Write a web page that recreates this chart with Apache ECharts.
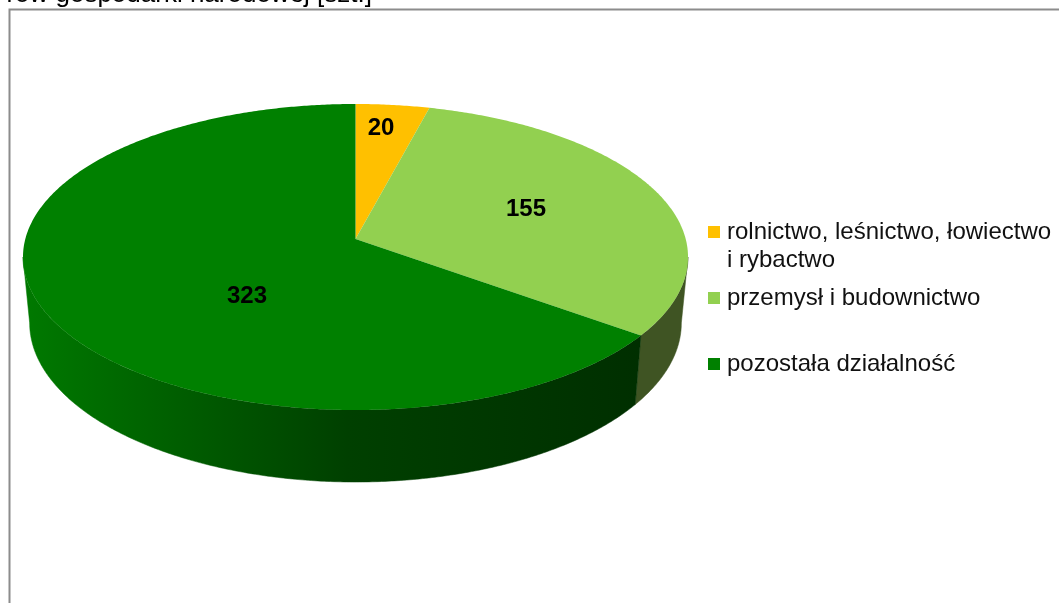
<!DOCTYPE html>
<html><head><meta charset="utf-8">
<style>html,body{margin:0;padding:0;background:#fff;overflow:hidden}#c{width:1059px;height:603px}</style>
<script src="https://cdn.jsdelivr.net/npm/echarts@6/dist/echarts.min.js"></script>
</head><body><div id="c"></div>
<script>
const categories = ['rolnictwo, leśnictwo, łowiectwo i rybactwo', 'przemysł i budownictwo', 'pozostała działalność'];
const values = [20, 155, 323];
const titleText = 'rów gospodarki narodowej [szt.]';

const topColors = ['#FFC000', '#92D050', '#008000'];
const labelPos = [[381, 128], [526, 209], [247, 296]];
const legendTops = [220, 286, 352];
const FONT = '"Liberation Sans", Arial, sans-serif';

const chart = echarts.init(document.getElementById('c'), null, {renderer: 'canvas'});
const total = values.reduce((a, b) => a + b, 0);
const D2R = Math.PI / 180;
const K = 36 / 306, A = 150.9, B = 330.2, CX = 355.5, CY = 239;
function topPt(deg) {
  const u = Math.sin(deg * D2R), v = Math.cos(deg * D2R), d = 1 + K * v;
  return [CX + B * u / d, CY - A * v / d];
}
function botPt(deg) {
  const p = topPt(deg);
  return [CX + (p[0] - CX) * 0.98, p[1] + 72 - 0.04 * (410 - p[1])];
}
function arc(fn, a, b) {
  const n = Math.max(2, Math.ceil(Math.abs(b - a) * 2)), pts = [];
  for (let i = 0; i <= n; i++) pts.push(fn(a + (b - a) * i / n));
  return pts;
}
const silR = Math.acos(-K) / D2R, silL = 360 - silR;
const darkGrad = new echarts.graphic.LinearGradient(30, 0, 640, 0, [
  {offset: 0, color: '#007800'}, {offset: 0.28, color: '#005a00'},
  {offset: 0.52, color: '#004000'}, {offset: 1, color: '#002f00'}], true);
const sideFill = [null, '#3F5423', darkGrad];

function renderSlice(idx) {
  return function () {
    let before = 0;
    for (let i = 0; i < idx; i++) before += values[i];
    const a0 = before / total * 360, a1 = (before + values[idx]) / total * 360;
    const children = [];
    const s0 = Math.max(a0, silR), s1 = Math.min(a1, silL);
    if (s1 > s0) {
      children.push({type: 'polygon', shape: {points: arc(topPt, s0, s1).concat(arc(botPt, s1, s0))},
        style: {fill: sideFill[idx], stroke: sideFill[idx], lineWidth: 0.5}});
    }
    children.push({type: 'polygon', shape: {points: [[CX, CY]].concat(arc(topPt, a0, a1))},
      style: {fill: topColors[idx]}});
    children.push({type: 'text', x: labelPos[idx][0], y: labelPos[idx][1],
      style: {text: String(values[idx]), font: 'bold 24px ' + FONT, fill: '#000', textAlign: 'center', textVerticalAlign: 'middle'}, z2: 10});
    return {type: 'group', children};
  };
}

chart.setOption({
  animation: false,
  backgroundColor: '#fff',
  legend: categories.map((c, i) => ({
    data: [c], left: 708, top: legendTops[i], orient: 'vertical', icon: 'rect',
    itemWidth: 12, itemHeight: 12, itemGap: 0, padding: 0, selectedMode: false,
    formatter: n => n.replace(' i rybactwo', ''),
    textStyle: {fontFamily: FONT, fontSize: 24, color: '#111', padding: [0, 0, 0, 2]}
  })),
  graphic: [
    {type: 'rect', shape: {x: 9.5, y: 9.5, width: 1200, height: 800}, style: {fill: 'none', stroke: '#8C8C8C', lineWidth: 2}, z: -1},
    {type: 'text', x: 372, y: 8, style: {text: titleText, font: '26px ' + FONT, fill: '#000', textAlign: 'right', textVerticalAlign: 'bottom'}},
    {type: 'text', x: 727, y: 260, style: {text: 'i rybactwo', font: '24px ' + FONT, fill: '#111', textAlign: 'left', textVerticalAlign: 'middle'}}
  ],
  series: categories.map((c, i) => ({
    type: 'custom', name: c, coordinateSystem: 'none', silent: true,
    itemStyle: {color: topColors[i]},
    renderItem: renderSlice(i), data: [values[i]]
  }))
});
</script></body></html>
